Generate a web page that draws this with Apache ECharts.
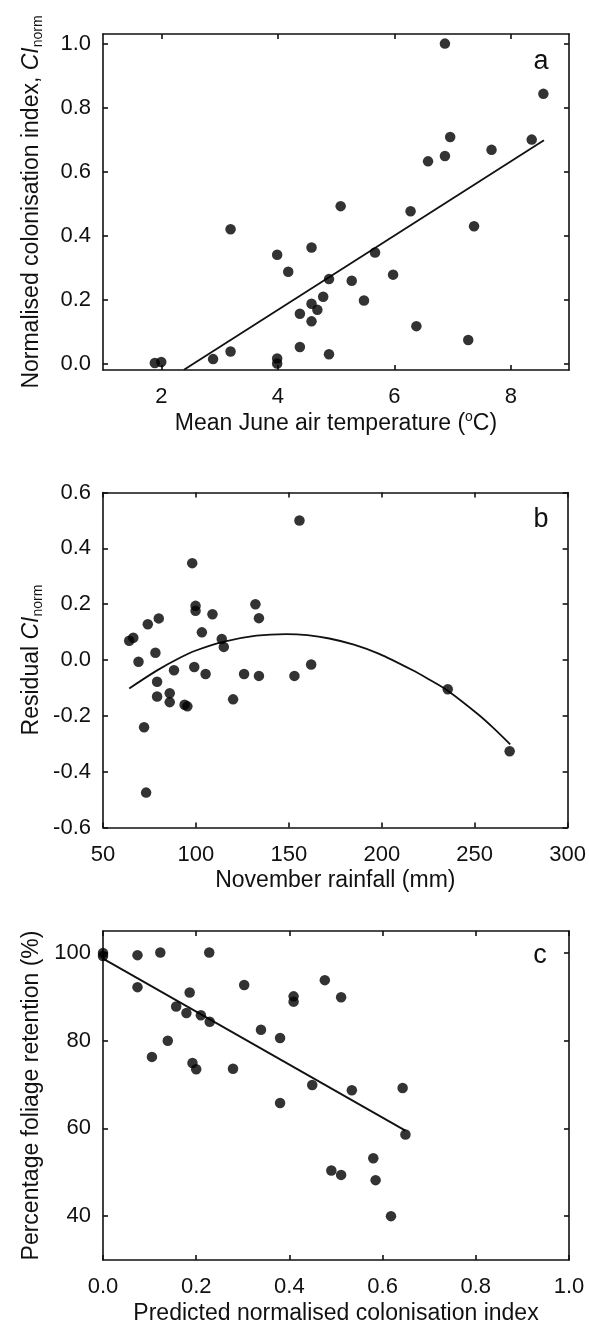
<!DOCTYPE html>
<html>
<head>
<meta charset="utf-8">
<script src="https://cdn.jsdelivr.net/npm/echarts@6/dist/echarts.min.js"></script>
<style>
  html, body { margin: 0; padding: 0; background: #fff; }
  #chart { width: 589px; height: 1326px; }
</style>
</head>
<body>
<div id="chart"></div>
<script>
// panel a: mean June air temperature vs normalised colonisation index
const tempA = [6.87, 8.56, 6.96, 8.36, 6.87, 6.58, 7.67, 5.08, 6.28, 7.37, 3.19, 3.99, 4.58, 4.18, 5.67, 4.88, 5.27,
  5.98, 4.78, 4.58, 4.68, 4.38, 4.58, 5.48, 6.38, 7.27, 4.38, 4.88, 3.19, 2.89, 3.99, 3.99, 1.89, 2.0]
const ciA = [1.0, 0.843, 0.708, 0.7, 0.649, 0.632, 0.668, 0.492, 0.476, 0.429, 0.42, 0.34, 0.363, 0.287, 0.347, 0.264, 0.259,
  0.278, 0.209, 0.187, 0.168, 0.156, 0.132, 0.197, 0.117, 0.074, 0.052, 0.029, 0.038, 0.014, 0.016, 0.0, 0.002, 0.005]
const fitAX = [2.39, 8.57]
const fitAY = [-0.019, 0.698]

// panel b: November rainfall vs residual CI
const rainB = [155.7, 98.0, 99.8, 99.8, 132.0, 133.9, 108.9, 80.0, 74.1, 64.1, 66.3, 103.2, 113.9, 115.0, 78.2, 69.1, 88.2,
  99.1, 105.2, 125.9, 133.9, 153.0, 162.0, 79.1, 85.9, 79.1, 85.9, 93.9, 95.4, 120.0, 235.5, 268.8, 72.1, 73.2]
const residB = [0.5, 0.347, 0.194, 0.176, 0.2, 0.15, 0.164, 0.149, 0.128, 0.069, 0.08, 0.099, 0.075, 0.047, 0.026, -0.006, -0.037,
  -0.025, -0.05, -0.05, -0.057, -0.057, -0.016, -0.078, -0.119, -0.131, -0.151, -0.16, -0.166, -0.141, -0.105, -0.327, -0.241, -0.475]
const fitBX = [64.1, 78.9, 91.4, 100, 114.6, 132.5, 148.6, 160, 171.8, 185, 198.6, 216.4, 225, 235.5, 252.1, 260, 269.1]
const fitBY = [-0.102, -0.038, 0.008, 0.034, 0.065, 0.087, 0.093, 0.089, 0.077, 0.055, 0.022, -0.036, -0.068, -0.110, -0.196, -0.243, -0.302]

// panel c: predicted colonisation index vs foliage retention
const predC = [0.0, 0.0, 0.074, 0.123, 0.228, 0.074, 0.303, 0.186, 0.476, 0.409, 0.409, 0.511, 0.157, 0.179, 0.21, 0.229, 0.339,
  0.38, 0.139, 0.105, 0.192, 0.2, 0.279, 0.449, 0.534, 0.643, 0.38, 0.649, 0.58, 0.49, 0.511, 0.585, 0.618]
const retC = [100.0, 99.3, 99.5, 100.1, 100.1, 92.2, 92.7, 91.0, 93.8, 90.1, 88.9, 89.9, 87.8, 86.3, 85.8, 84.3, 82.5,
  80.6, 80.0, 76.3, 74.9, 73.5, 73.6, 69.9, 68.7, 69.2, 65.8, 58.6, 53.2, 50.4, 49.4, 48.2, 40.0]
const fitCX = [0.0, 0.649]
const fitCY = [98.7, 59.5]

// tick labels
const ticksAX = [2, 4, 6, 8]
const ticksAY = [0, 0.2, 0.4, 0.6, 0.8, 1.0]
const ticksBX = [50, 100, 150, 200, 250, 300]
const ticksBY = [-0.6, -0.4, -0.2, 0, 0.2, 0.4, 0.6]
const ticksCX = [0, 0.2, 0.4, 0.6, 0.8, 1.0]
const ticksCY = [40, 60, 80, 100]

const pair = (xs, ys) => xs.map((x, i) => [x, ys[i]])

const FONT = 'Liberation Sans'
const INK = '#111'
const fix1 = (v) => (Math.abs(v) < 1e-9 ? 0 : v).toFixed(1)
const intFmt = (v) => String(Math.round(v))
const rich = {
  n: { fontFamily: FONT, fontSize: 23, lineHeight: 27, color: INK },
  i: { fontFamily: FONT, fontSize: 23, lineHeight: 27, color: INK, fontStyle: 'italic' },
  sub: { fontFamily: FONT, fontSize: 14, lineHeight: 13, color: INK, verticalAlign: 'bottom' },
  sup: { fontFamily: FONT, fontSize: 14, lineHeight: 15, color: INK, verticalAlign: 'top' },
}

var myChart = echarts.init(document.getElementById('chart'))

const grids = [
  { left: 103, top: 34, width: 466, height: 336 },
  { left: 103, top: 492.5, width: 466, height: 335 },
  { left: 103, top: 931, width: 466, height: 334 },
]

const lineStyle = { color: INK, width: 1.6 }

function makeX(gi, min, max, ticks, fmt, name) {
  return [
    {
      type: 'value', gridIndex: gi, position: 'bottom', min: min, max: max,
      name: name, nameLocation: 'middle', nameGap: 40, nameMoveOverlap: false,
      nameTextStyle: { rich: rich },
      axisLine: { show: true, onZero: false, lineStyle: lineStyle },
      axisTick: { show: true, inside: true, length: 5, lineStyle: lineStyle, customValues: ticks },
      axisLabel: { show: true, margin: 16, fontFamily: FONT, fontSize: 22, color: INK, customValues: ticks, formatter: fmt },
      splitLine: { show: false },
    },
    {
      type: 'value', gridIndex: gi, position: 'top', min: min, max: max,
      axisLine: { show: true, onZero: false, lineStyle: lineStyle },
      axisTick: { show: true, inside: true, length: 5, lineStyle: lineStyle, customValues: ticks },
      axisLabel: { show: false },
      splitLine: { show: false },
    },
  ]
}

function makeY(gi, min, max, ticks, fmt, name) {
  return [
    {
      type: 'value', gridIndex: gi, position: 'left', min: min, max: max,
      name: name, nameLocation: 'middle', nameGap: 58, nameRotate: 90, nameMoveOverlap: false,
      nameTextStyle: { rich: rich },
      axisLine: { show: true, onZero: false, lineStyle: lineStyle },
      axisTick: { show: true, inside: true, length: 5, lineStyle: lineStyle, customValues: ticks },
      axisLabel: { show: true, margin: 12, fontFamily: FONT, fontSize: 22, color: INK, customValues: ticks, formatter: fmt },
      splitLine: { show: false },
    },
    {
      type: 'value', gridIndex: gi, position: 'right', min: min, max: max,
      axisLine: { show: true, onZero: false, lineStyle: lineStyle },
      axisTick: { show: true, inside: true, length: 5, lineStyle: lineStyle, customValues: ticks },
      axisLabel: { show: false },
      splitLine: { show: false },
    },
  ]
}

const xAxes = [].concat(
  makeX(0, 1, 9, ticksAX, intFmt, '{n|Mean June air temperature (}{sup|o}{n|C)}'),
  makeX(1, 50, 300, ticksBX, intFmt, '{n|November rainfall (mm)}'),
  makeX(2, 0, 1, ticksCX, fix1, '{n|Predicted normalised colonisation index}')
)
const yAxes = [].concat(
  makeY(0, -0.02, 1.03, ticksAY, fix1, '{n|Normalised colonisation index, }{i|CI}{sub|norm}'),
  makeY(1, -0.6, 0.6, ticksBY, fix1, '{n|Residual }{i|CI}{sub|norm}'),
  makeY(2, 30, 105, ticksCY, intFmt, '{n|Percentage foliage retention (%)}')
)

function scatter(gi, data) {
  return {
    type: 'scatter', xAxisIndex: gi * 2, yAxisIndex: gi * 2, data: data,
    symbol: 'circle', symbolSize: 10.5, itemStyle: { color: '#000' }, silent: true, z: 3,
  }
}
function fitLine(gi, data, smooth) {
  return {
    type: 'line', xAxisIndex: gi * 2, yAxisIndex: gi * 2, data: data, smooth: smooth,
    showSymbol: false, lineStyle: { color: INK, width: 1.8 }, silent: true, z: 2, clip: false,
  }
}

const letters = [
  { t: 'a', x: 541, y: 62 },
  { t: 'b', x: 541, y: 520 },
  { t: 'c', x: 540, y: 956 },
]

var option = {
  backgroundColor: '#fff',
  animation: false,
  grid: grids,
  xAxis: xAxes,
  yAxis: yAxes,
  graphic: letters.map((l) => ({
    type: 'text', x: l.x, y: l.y,
    style: { text: l.t, fontFamily: FONT, fontSize: 27, fill: INK, align: 'center', verticalAlign: 'middle' },
  })),
  series: [
    scatter(0, pair(tempA, ciA)),
    fitLine(0, pair(fitAX, fitAY), false),
    scatter(1, pair(rainB, residB)),
    fitLine(1, pair(fitBX, fitBY), 0.3),
    scatter(2, pair(predC, retC)),
    fitLine(2, pair(fitCX, fitCY), false),
  ],
}

myChart.setOption(option)
</script>
</body>
</html>
